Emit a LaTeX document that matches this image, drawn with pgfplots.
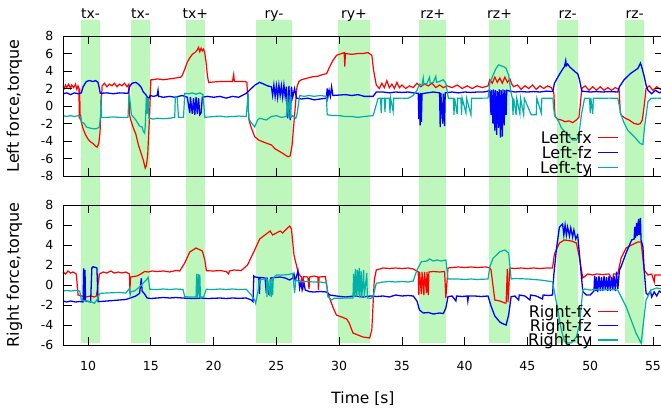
\documentclass[border=0pt]{standalone}
\usepackage{fontspec}
\setmainfont{DejaVu Sans}
\usepackage{pgfplots}
\pgfplotsset{compat=1.18}
\definecolor{bandg}{RGB}{190,247,187}
\definecolor{fxred}{RGB}{255,0,0}
\definecolor{fzblue}{RGB}{0,0,255}
\definecolor{tyteal}{RGB}{0,176,166}
\newcommand{\legline}[1]{\hspace{6pt}\tikz[baseline=0pt]\draw[#1] (0pt,5.85pt) -- (20pt,5.85pt);}
\pgfplotsset{
  panel/.style={
    scale only axis, width=600pt, height=140pt,
    xmin=8, xmax=55.8,
    xtick={10,15,...,55},
    tick align=inside, major tick length=8.5pt,
    tick style={black, line width=0.8pt},
    axis line style={black, line width=0.9pt},
    clip=false, axis on top,
    /pgf/number format/assume math mode=true,
    tick label style={font=\fontsize{12.5}{12.5}\selectfont},
    yticklabel style={inner sep=0pt, anchor=east, xshift=-9.5pt},
    xticklabel style={inner sep=0pt, anchor=north, yshift=-16.5pt},
    ylabel style={at={(rel axis cs:-0.0808,0.5)}, anchor=center, rotate=0, inner sep=0pt, font=\fontsize{16}{16}\selectfont},
    legend cell align=right, legend plot pos=none,
  },
  fx/.style={color=fxred, line width=1.2pt},
  fz/.style={color=fzblue, line width=1.3pt},
  ty/.style={color=tyteal, line width=1.2pt},
  band/.style={fill=bandg, draw=none, forget plot},
}
\begin{document}
\begin{tikzpicture}
\path[use as bounding box] (0,0) rectangle (661pt,408pt);
% ---------------- top panel ----------------
\begin{axis}[panel, at={(63pt,232pt)}, anchor=south west,
  ymin=-8, ymax=8, ytick={-8,-6,...,8}, xticklabels={},
  ylabel={Left force,torque},
  legend style={at={(rel axis cs:0.9267,0.3286)}, anchor=north east, draw=none, fill=none,
    inner sep=0pt, outer sep=0pt, row sep=0pt,
    font=\fontsize{16}{16}\selectfont, cells={anchor=east},
    nodes={inner sep=0pt, text height=13.35pt, text depth=1.65pt}},
]
\addplot[band] coordinates {(9.43,-11.31) (10.95,-11.31) (10.95,9.83) (9.43,9.83) (9.43,-11.31)};
\addplot[band] coordinates {(13.42,-11.31) (14.93,-11.31) (14.93,9.83) (13.42,9.83) (13.42,-11.31)};
\addplot[band] coordinates {(17.80,-11.31) (19.30,-11.31) (19.30,9.83) (17.80,9.83) (17.80,-11.31)};
\addplot[band] coordinates {(23.38,-11.31) (26.25,-11.31) (26.25,9.83) (23.38,9.83) (23.38,-11.31)};
\addplot[band] coordinates {(29.90,-11.31) (32.46,-11.31) (32.46,9.83) (29.90,9.83) (29.90,-11.31)};
\addplot[band] coordinates {(36.37,-11.31) (38.52,-11.31) (38.52,9.83) (36.37,9.83) (36.37,-11.31)};
\addplot[band] coordinates {(41.94,-11.31) (43.62,-11.31) (43.62,9.83) (41.94,9.83) (41.94,-11.31)};
\addplot[band] coordinates {(47.36,-11.31) (49.04,-11.31) (49.04,9.83) (47.36,9.83) (47.36,-11.31)};
\addplot[band] coordinates {(52.78,-11.31) (54.30,-11.31) (54.30,9.83) (52.78,9.83) (52.78,-11.31)};
\foreach \xx/\lab in {10.19/tx-,14.17/tx-,18.55/tx+,24.81/ry-,31.18/ry+,37.45/rz+,42.78/rz+,48.20/rz-,53.54/rz-}{
  \edef\temp{\noexpand\node[anchor=base, inner sep=0pt, font=\noexpand\fontsize{14}{14}\noexpand\selectfont] at (axis cs:\xx,10.02) {\lab};}
  \temp
}
% Left-fx
\addplot[fx] coordinates {
(8,2.3) (8.1,2.0) (8.2,2.4) (8.3,2.1) (8.45,2.5) (8.6,2.0) (8.7,2.4) (8.85,2.1) (9.0,2.5) (9.1,1.9) (9.2,2.3) (9.27,2.0)
(9.3,-1.4) (9.33,2.0) (9.37,-1.6) (9.4,-1.0) (9.45,-1.8) (9.6,-2.6) (9.8,-3.3) (10.0,-3.8) (10.2,-4.1) (10.4,-4.3) (10.6,-4.6) (10.72,-4.7) (10.85,-4.3) (10.95,-3.0) (11.05,0.5) (11.12,2.3)
(11.3,2.6) (11.5,2.2) (11.7,2.5) (11.9,2.3) (12.1,2.6) (12.3,2.2) (12.5,2.5) (12.7,2.3) (12.9,2.6) (13.1,2.2) (13.25,2.5)
(13.3,-1.0) (13.4,-1.6) (13.6,-2.5) (13.8,-3.2) (14.0,-4.4) (14.2,-5.3) (14.4,-6.2) (14.55,-7.1) (14.65,-6.8) (14.75,-5.5) (14.9,-1) (15.0,3.0)
(15.2,3.0) (15.5,3.1) (16,3.0) (16.5,3.1) (17,3.2) (17.4,3.3) (17.5,3.5) (17.7,4.2) (17.9,5.0) (18.1,5.5) (18.3,5.9) (18.5,6.1) (18.7,6.4) (18.8,6.7) (18.9,6.2) (19.0,6.6) (19.1,6.3) (19.2,6.5) (19.3,6.0) (19.4,5.0) (19.5,3.5) (19.6,2.7)
(20.5,2.8) (21.5,2.8) (21.6,3.6) (21.65,2.8) (22.5,2.8) (22.65,2.7) (22.75,0) (22.82,-1.6) (23.0,-2.5) (23.27,-3.5) (23.6,-3.9) (23.94,-4.1) (24.3,-4.3) (24.6,-4.45) (24.9,-4.9) (25.26,-5.2) (25.5,-5.4) (25.7,-5.6) (25.93,-5.8) (26.1,-5.7) (26.25,-4.5) (26.45,-1.0) (26.64,2.2)
(26.8,2.8) (27.0,3.0) (27.5,3.2) (27.9,3.35) (28.3,3.4) (28.7,3.6) (29.0,3.7) (29.25,4.5) (29.5,5.2) (29.8,5.8) (30.2,6.0) (30.4,6.1) (30.45,4.5) (30.5,6.0) (31,5.9) (31.5,6.0) (31.9,6.0) (32.3,6.1) (32.6,5.8) (32.75,4.0) (32.96,2.4)
(33.2,2.0) (33.4,2.6) (33.6,2.1) (33.8,2.9) (34.0,2.1) (34.2,2.5) (34.4,2.0) (34.6,2.7) (34.8,2.1) (35.0,2.4) (35.3,2.0) (35.6,2.3) (35.9,2.1) (36.2,2.6) (36.5,2.2) (36.8,2.5) (37.1,2.3) (37.4,2.6) (37.7,2.1) (38.0,2.4) (38.3,2.1) (38.6,2.3) (39,2.1) (39.4,2.4) (39.8,2.0) (40.2,2.3) (40.6,2.0) (41.0,2.3) (41.4,2.1) (41.86,2.3)
(42.0,3.0) (42.2,2.6) (42.4,3.3) (42.6,2.7) (42.8,3.2) (43.0,2.6) (43.2,3.3) (43.4,2.7) (43.6,3.1) (43.75,2.5) (43.9,2.2)
(44.2,2.4) (44.5,1.9) (44.8,2.3) (45.1,2.0) (45.4,2.4) (45.7,1.9) (46.0,2.3) (46.3,2.0) (46.6,2.3) (46.9,2.1) (47.1,1.5) (47.2,-1.2) (47.4,-1.5) (47.7,-1.6) (48,-1.8) (48.3,-1.7) (48.6,-1.9) (48.9,-1.6) (49.1,-1.3) (49.2,0) (49.33,2.0)
(49.6,2.3) (49.9,1.8) (50.2,2.2) (50.5,1.8) (50.8,2.2) (51.1,1.8) (51.4,2.1) (51.7,1.8) (52.0,2.1) (52.3,1.9) (52.4,-0.8) (52.5,-1.1) (52.8,-1.4) (53.1,-1.6) (53.5,-2.0) (53.8,-2.1) (54.0,-2.0) (54.15,-1.6) (54.3,0) (54.45,2.0) (54.7,2.3) (55.0,1.8) (55.3,2.2) (55.6,1.9) (55.8,2.1)
};
\addlegendentry{Left-fx\legline{fxred,line width=1.2pt}}
% Left-fz
\addplot[fz] coordinates {
(8,1.4) (8.3,1.5) (8.6,1.3) (8.9,1.5) (9.2,1.4) (9.46,1.5) (9.6,2.2) (9.86,2.8) (10.1,2.9) (10.4,2.8) (10.6,2.9) (10.79,2.7) (10.9,2.0) (10.97,1.45) (11.5,1.5) (12,1.4) (12.5,1.5) (13.18,1.45)
(13.3,2.2) (13.5,2.6) (13.8,2.7) (14.0,2.5) (14.2,2.2) (14.4,1.6) (14.6,1.3) (14.8,0.8) (14.95,1.2) (15.2,1.1) (15.5,1.2) (15.57,1.8) (15.62,1.1) (16,1.0) (16.5,1.1) (16.9,1.0) (17.5,1.2) (17.9,1.0)
(18.1,-0.8) (18.15,1.0) (18.3,-0.9) (18.4,0.9) (18.5,-1.0) (18.6,1.0) (18.7,-0.9) (18.8,0.9) (18.9,-1.0) (19.0,-0.8) (19.1,1.0) (19.5,1.1) (20,1.0) (20.5,1.1) (21,0.9) (21.5,1.1) (22,1.0) (22.6,1.45)
(23.0,2.0) (23.3,2.4) (23.67,2.7) (24,2.5) (24.3,2.3) (24.6,2.2) (24.7,1.2) (24.8,2.4) (24.9,1.1) (25.0,2.3) (25.1,1.0) (25.2,2.4) (25.3,1.2) (25.4,2.3) (25.5,1.0) (25.6,2.4) (25.7,1.1) (25.8,2.2) (25.9,-1.4) (26.0,2.3) (26.1,-1.6) (26.2,2.2) (26.3,1.0) (26.45,2.0) (26.6,0.9)
(27,0.8) (27.5,0.9) (28,0.7) (28.5,0.8) (28.98,0.9) (29.05,2.0) (29.1,1.0) (29.2,1.8) (29.3,1.1) (29.4,2.2) (29.5,1.2) (30,1.25) (30.5,1.3) (31,1.2) (31.5,1.3) (32,1.1) (32.7,1.1) (32.96,1.6)
(33.5,1.6) (34,1.5) (34.5,1.6) (35,1.55) (35.5,1.6) (35.9,1.5) (36.3,1.45) (36.35,-1.5) (36.4,1.4) (36.45,-2.2) (36.5,1.5) (36.55,-1.8) (36.6,1.4) (37.0,1.5) (37.5,1.6) (38.0,1.5) (38.05,-2.4) (38.1,1.5) (38.25,-2.0) (38.3,1.4) (38.4,-2.3) (38.45,1.5)
(39,1.6) (39.5,1.5) (40,1.6) (40.5,1.55) (41,1.6) (41.5,1.6) (41.86,1.7) (42.0,1.8) (42.1,-1.0) (42.15,1.8) (42.25,-2.0) (42.3,1.9) (42.4,-2.8) (42.45,1.8) (42.55,-3.3) (42.6,1.7) (42.7,-2.5) (42.75,1.9) (42.85,-3.6) (42.9,1.8) (43.0,-3.5) (43.05,1.9) (43.15,-2.2) (43.2,1.8) (43.3,-1.0) (43.35,1.8) (43.6,1.7)
(44,1.6) (44.5,1.65) (45,1.6) (45.5,1.65) (46,1.6) (46.5,1.7) (47.02,1.65) (47.15,2.6) (47.5,3.5) (47.8,4.2) (47.95,4.5) (48.05,5.2) (48.1,4.6) (48.2,4.8) (48.4,4.4) (48.5,4.3) (48.8,3.9) (49.0,3.7) (49.15,3.0) (49.33,1.7)
(50,1.6) (50.5,1.65) (51,1.6) (51.5,1.65) (52.2,1.6) (52.33,2.2) (52.7,3.0) (53.2,3.7) (53.5,4.0) (53.8,4.3) (54.0,4.9) (54.1,4.5) (54.3,3.4) (54.45,2.4) (54.6,1.8) (54.9,1.4) (55.2,1.8) (55.5,1.5) (55.8,1.7)
};
\addlegendentry{Left-fz\legline{fzblue,line width=1.3pt}}
% Left-ty
\addplot[ty] coordinates {
(8,-1.1) (8.3,-1.2) (8.6,-1.1) (8.9,-1.2) (9.2,-1.1) (9.4,-1.2) (9.46,-1.8) (9.7,-2.0) (9.86,-2.4) (10.1,-2.5) (10.4,-2.6) (10.66,-2.6) (10.9,-2.4) (11.0,-1.0) (11.02,1.2) (11.05,-1.3) (11.5,-1.3) (12,-1.25) (12.5,-1.3) (13.18,-1.3)
(13.25,1.25) (13.3,1.2) (13.45,-1.0) (13.8,-1.6) (14.1,-2.3) (14.3,-2.4) (14.4,-2.9) (14.5,-3.1) (14.55,-2.4) (14.64,1.07) (14.7,-0.9) (14.78,0.9) (14.85,-1.4) (15.2,-1.5) (15.5,-1.4) (16,-1.45) (16.5,-1.4) (16.9,-1.3) (16.95,1.07) (17.1,1.0) (17.2,-1.3) (17.6,-1.3)
(17.7,1.45) (18,1.4) (18.3,1.5) (18.6,1.35) (18.9,1.5) (19.15,1.3) (19.3,-1.3) (20,-1.2) (20.5,-1.15) (21,-1.25) (21.5,-1.2) (22,-1.15) (22.6,-1.2) (22.75,1.45) (22.8,-1.5) (23.0,-1.9) (23.27,-2.4) (23.5,-1.6) (23.67,-1.4) (24.2,-1.6) (24.6,-1.2) (25,-1.1) (25.4,-1.3) (25.8,-1.2) (25.9,1.2) (25.95,-1.2) (26.1,1.2) (26.15,-1.3) (26.3,-1.1) (26.55,-1.4) (26.65,-0.9)
(26.85,1.2) (27.2,1.1) (27.6,1.2) (28.0,1.1) (28.5,1.2) (28.98,1.1) (29.05,-1.0) (29.5,-1.1) (30,-1.1) (30.5,-1.2) (31,-1.2) (31.5,-1.3) (32,-1.2) (32.7,-1.1) (32.8,-0.65)
(33.1,0.88) (33.3,0.88) (33.35,-0.8) (33.4,0.88) (33.6,0.9) (33.65,-0.7) (33.7,0.88) (34.0,0.9) (34.05,-0.8) (34.1,0.9) (34.3,-0.6) (34.35,0.9) (34.55,0.88) (35,0.9) (35.5,0.88) (35.9,1.2)
(36.2,1.8) (36.4,2.5) (36.6,2.4) (36.7,3.2) (36.75,2.5) (37.0,2.6) (37.2,3.3) (37.25,2.6) (37.5,2.7) (37.7,3.4) (37.75,2.7) (38.0,2.8) (38.3,3.0) (38.5,2.6) (38.7,0.88)
(39.1,0.9) (39.15,-1.0) (39.2,0.9) (39.4,-0.9) (39.45,0.9) (39.7,0.88) (39.75,-1.0) (39.8,0.9) (40.1,-0.8) (40.15,0.9) (40.5,-1.0) (40.55,0.9) (41,0.88) (41.5,0.9) (41.86,0.9)
(42,2.6) (42.25,3.5) (42.5,4.3) (42.7,4.7) (42.9,4.6) (43.1,4.5) (43.3,4.3) (43.5,3.5) (43.7,1.5) (43.8,0.88) (43.85,-1.0) (43.9,0.88) (44.1,-1.0) (44.15,0.88) (44.4,-0.9) (44.45,0.88) (44.7,-1.0) (44.75,0.88) (45.3,-1.0) (45.7,-1.0) (45.75,0.88) (46.1,-0.8) (46.15,0.9) (46.5,0.88) (47.02,0.88)
(47.15,-1.0) (47.5,-1.8) (47.7,-2.5) (47.95,-2.9) (48.3,-3.4) (48.6,-3.9) (48.9,-3.9) (49.1,-3.3) (49.3,-1.0) (49.55,0.88) (49.95,0.9) (50.0,-0.8) (50.05,0.9) (50.2,-0.9) (50.25,0.9) (51,0.88) (51.5,0.9) (52.2,0.88)
(52.46,-1.0) (52.72,-2.0) (53.0,-2.8) (53.5,-3.5) (54.0,-4.3) (54.2,-4.4) (54.32,-2.5) (54.6,0.5) (54.86,0.88) (55.3,0.9) (55.8,0.88)
};
\addlegendentry{Left-ty\legline{tyteal,line width=1.2pt}}
\end{axis}
% ---------------- bottom panel ----------------
\begin{axis}[panel, at={(63pt,63pt)}, anchor=south west,
  ymin=-6, ymax=8, ytick={-6,-4,...,8},
  ylabel={Right force,torque},
  xlabel={Time [s]},
  xlabel style={at={(rel axis cs:0.5,0)}, anchor=base, inner sep=0pt, yshift=-58pt, font=\fontsize{15.5}{15.5}\selectfont},
  legend style={at={(rel axis cs:0.9267,0.2904)}, anchor=north east, draw=none, fill=none,
    inner sep=0pt, outer sep=0pt, row sep=0pt,
    font=\fontsize{16}{16}\selectfont, cells={anchor=east},
    nodes={inner sep=0pt, text height=12.99pt, text depth=1.31pt}},
]
\addplot[band] coordinates {(9.43,-5.8) (10.95,-5.8) (10.95,8) (9.43,8) (9.43,-5.8)};
\addplot[band] coordinates {(13.42,-5.8) (14.93,-5.8) (14.93,8) (13.42,8) (13.42,-5.8)};
\addplot[band] coordinates {(17.80,-5.8) (19.30,-5.8) (19.30,8) (17.80,8) (17.80,-5.8)};
\addplot[band] coordinates {(23.38,-5.8) (26.25,-5.8) (26.25,8) (23.38,8) (23.38,-5.8)};
\addplot[band] coordinates {(29.90,-5.8) (32.46,-5.8) (32.46,8) (29.90,8) (29.90,-5.8)};
\addplot[band] coordinates {(36.37,-5.8) (38.52,-5.8) (38.52,8) (36.37,8) (36.37,-5.8)};
\addplot[band] coordinates {(41.94,-5.8) (43.62,-5.8) (43.62,8) (41.94,8) (41.94,-5.8)};
\addplot[band] coordinates {(47.36,-5.8) (49.04,-5.8) (49.04,8) (47.36,8) (47.36,-5.8)};
\addplot[band] coordinates {(52.78,-5.8) (54.30,-5.8) (54.30,8) (52.78,8) (52.78,-5.8)};
% Right-fx
\addplot[fx] coordinates {
(8,1.3) (8.2,1.1) (8.4,1.4) (8.6,1.2) (8.8,1.3) (9.06,1.1) (9.2,-1.0) (9.5,-1.1) (9.8,-1.2) (10.2,-1.1) (10.5,-1.2) (10.66,-1.1) (10.9,1.1) (11.2,1.3) (11.5,1.2) (11.8,1.4) (12.1,1.2) (12.4,1.3) (12.7,1.2) (13.0,1.3) (13.3,1.1)
(13.32,-0.83) (13.38,0.8) (13.6,0.85) (13.9,0.9) (14.2,1.1) (14.5,1.35) (14.8,1.3) (15.1,1.4) (15.5,1.35) (16,1.4) (16.5,1.3) (17,1.45) (17.3,1.4) (17.7,2.2) (18.1,3.3) (18.6,3.7) (19.1,3.4) (19.3,2.5) (19.42,1.43)
(20,1.4) (20.5,1.45) (21,1.35) (21.2,1.1) (21.25,1.4) (21.6,1.5) (22.2,1.45) (22.7,2.0) (23.27,3.5) (23.67,4.6) (24.3,5.2) (24.5,5.4) (24.7,5.0) (25,5.2) (25.3,5.4) (25.5,5.2) (25.8,5.6) (26.06,5.9) (26.2,5.6) (26.4,3.0) (26.72,1.33)
(26.9,0.9) (27.0,0.8) (27.1,-0.5) (27.15,0.85) (27.5,0.8) (27.6,-0.4) (27.65,0.8) (28.0,0.9) (28.3,0.8) (28.35,-0.5) (28.4,0.8) (28.9,0.85) (29.1,-0.83) (29.5,-2.2) (29.78,-3.0) (30.2,-3.2) (30.6,-3.4) (30.8,-3.8) (31.1,-4.8) (31.5,-5.0) (31.9,-5.2) (32.43,-5.3) (32.6,-4.5) (32.8,0.5) (32.96,1.5)
(33.5,1.7) (34,1.65) (34.5,1.7) (35,1.65) (35.5,1.7) (35.9,1.6) (36.3,1.33) (36.35,-1.0) (36.4,1.3) (36.55,-0.9) (36.6,1.3) (36.75,-1.0) (36.8,1.3) (36.95,-0.8) (37.0,1.3) (37.1,-1.0) (37.15,1.3) (37.5,1.35) (38.0,1.3) (38.4,1.35) (38.5,-1.3) (38.67,1.7)
(39,1.75) (39.5,1.8) (40,1.75) (40.5,1.8) (41,1.75) (41.7,1.8) (42.0,1.7) (42.1,1.5) (42.4,-1.5) (42.8,-1.6) (43.2,-1.8) (43.3,-1.8) (43.4,1.6) (43.45,-1.7) (43.6,1.7)
(44.0,1.65) (44.5,1.7) (45,1.65) (45.5,1.7) (46,1.65) (46.5,1.7) (47.0,1.7) (47.15,3.1) (47.55,4.2) (47.95,4.5) (48.5,4.4) (48.9,4.2) (49.1,3.0) (49.3,1.5) (49.41,0.7)
(49.8,1.1) (50.2,1.0) (50.5,1.1) (51,1.05) (51.5,1.1) (51.8,0.4) (51.85,1.1) (52.2,1.1) (52.46,2.7) (52.86,3.7) (53.3,4.0) (53.8,4.3) (54.05,4.3) (54.3,1.5) (54.6,1.0) (54.9,1.1) (55.1,0.3) (55.15,1.0) (55.5,1.0) (55.8,1.0)
};
\addlegendentry{Right-fx\legline{fxred,line width=1.2pt}}
% Right-fz
\addplot[fz] coordinates {
(8,-1.6) (8.3,-1.7) (8.6,-1.6) (9.0,-1.7) (9.33,-1.65) (9.6,-1.7) (9.65,1.67) (9.7,-1.5) (9.75,1.5) (9.8,-1.6) (10.2,-1.7) (10.3,1.7) (10.4,1.83) (10.7,1.7) (10.8,-1.67) (11.5,-1.6) (12,-1.55) (12.5,-1.5) (13,-1.45) (13.3,-1.33) (13.8,-1.1) (14.1,-0.83) (14.24,0.67) (14.3,-0.6) (14.5,-0.9) (14.7,-1.3)
(15,-1.35) (15.5,-1.3) (16,-1.25) (16.5,-1.3) (17,-1.25) (17.5,-1.3) (18,-1.33) (18.5,-1.35) (19,-1.3) (19.5,-1.35) (20,-1.33) (20.5,-1.3) (21,-1.35) (21.5,-1.3) (22,-1.33) (22.6,-1.3) (23.0,-1.5) (23.14,-1.67)
(23.2,0.9) (23.3,0.8) (23.6,0.75) (23.65,-0.9) (23.7,0.75) (24.1,0.7) (24.2,-0.8) (24.25,0.75) (24.4,-0.9) (24.5,-0.8) (24.55,0.7) (24.9,0.75) (25.3,0.8) (25.7,0.7) (26.06,0.5) (26.3,0.7) (26.4,1.1) (26.5,0.4) (26.72,1.4) (26.85,-0.3) (26.95,0.3) (27.05,-0.5) (27.2,0.2) (27.3,-0.5) (27.65,-0.67)
(28,-0.7) (28.5,-0.65) (29,-0.7) (29.25,-1.0) (29.8,-1.1) (30.5,-1.2) (31.2,-1.1) (31.9,-1.2) (32.5,-1.1) (33,-1.15) (33.5,-1.1) (34,-1.2) (34.5,-1.0) (35,-1.1) (35.5,-1.05) (35.9,-1.1)
(36.2,-1.6) (36.4,-2.5) (36.7,-2.8) (37.1,-2.75) (37.5,-2.9) (38.0,-2.8) (38.3,-2.85) (38.5,-2.3) (38.67,-1.17) (39,-1.1) (39.3,-1.6) (39.35,-1.1) (39.8,-1.15) (40.2,-1.1) (40.25,-1.6) (40.3,-1.1) (40.8,-1.1) (41.3,-1.15) (41.86,-1.1)
(42.1,-2.1) (42.4,-3.1) (42.8,-3.7) (43.0,-3.85) (43.3,-4.0) (43.5,-3.0) (43.7,-1.17) (44,-1.1) (44.3,-1.5) (44.35,-1.0) (44.8,-1.1) (45.2,-1.5) (45.25,-1.0) (45.7,-1.1) (46.2,-1.4) (46.25,-1.0) (46.7,-1.05) (47.0,-1.0)
(47.1,1.0) (47.3,3.5) (47.55,5.8) (47.8,6.1) (47.9,5.0) (48.0,6.0) (48.1,5.0) (48.2,5.8) (48.35,4.9) (48.45,5.7) (48.6,4.8) (48.7,5.5) (48.85,4.6) (49.0,5.0) (49.15,3.0) (49.41,-0.67) (49.7,-1.0) (50.0,-1.0)
(50.3,-0.6) (50.35,0.9) (50.45,-0.6) (50.5,0.8) (50.6,-0.7) (50.7,0.9) (50.8,-0.6) (50.9,0.8) (51.0,-0.6) (51.1,0.9) (51.2,-0.5) (51.3,0.8) (51.4,-0.6) (51.5,0.9) (51.6,-0.6) (51.7,0.8) (51.8,-0.5) (51.9,0.9) (52.0,-0.6) (52.1,1.33) (52.2,-0.4) (52.33,1.5)
(52.46,1.83) (52.86,3.2) (53.3,4.5) (53.5,4.6) (53.55,5.8) (53.6,4.7) (53.7,6.2) (53.75,4.9) (53.85,6.6) (53.9,5.0) (54.0,6.7) (54.05,4.5) (54.2,3.8) (54.3,1.5) (54.45,-0.8) (54.6,-1.0) (54.8,-0.6) (54.9,-1.2) (55.1,-0.7) (55.3,-1.1) (55.5,-0.6) (55.8,-0.9)
};
\addlegendentry{Right-fz\legline{fzblue,line width=1.3pt}}
% Right-ty
\addplot[ty] coordinates {
(8,-0.6) (8.3,-0.55) (8.6,-0.6) (9,-0.55) (9.33,-0.6) (9.46,-1.5) (9.8,-1.6) (10.2,-1.65) (10.5,-1.83) (10.7,-1.5) (10.9,-0.9) (11.05,-0.83) (11.5,-0.8) (12,-0.77) (12.5,-0.75) (13,-0.8) (13.2,-0.5) (13.3,-0.33) (13.35,-1.0) (13.4,-0.67) (13.7,-0.6) (14.1,-0.2) (14.4,0.2) (14.64,0.5) (14.78,0.77) (14.92,-0.43)
(15.5,-0.45) (16,-0.4) (16.5,-0.45) (17,-0.4) (17.56,-0.45) (17.7,-1.17) (18.2,-1.2) (18.6,-1.2) (18.65,1.1) (18.7,-1.2) (18.8,1.1) (18.85,-1.2) (18.9,1.0) (18.95,-1.2) (19.2,-1.2) (19.42,-0.43)
(20,-0.45) (20.5,-0.4) (21,-0.45) (21.5,-0.4) (22,-0.45) (22.6,-0.43) (23,-1.0) (23.27,-1.5) (23.35,-1.83) (23.55,-0.5) (23.67,0.5) (24.0,0.6) (24.2,0.6) (24.25,-1.2) (24.3,0.6) (24.45,-1.1) (24.5,0.6) (24.6,-1.2) (24.65,0.6) (24.7,-1.0) (24.75,0.7) (25,1.0) (25.5,1.0) (26.0,1.05) (26.3,1.17) (26.45,-0.8) (26.55,0.5) (26.86,0.33)
(27.5,0.35) (28,0.3) (28.5,0.3) (29,0.2) (29.1,-1.17) (29.4,-1.5) (29.6,-1.33) (30,-1.33) (30.6,-1.3) (31.1,-1.3) (31.15,1.1) (31.2,-1.2) (31.3,1.6) (31.35,-1.2) (31.45,1.5) (31.5,-1.0) (31.6,1.7) (31.65,-1.2) (31.75,1.4) (31.8,-1.3) (31.95,1.5) (32.0,-1.2) (32.2,1.2) (32.25,-1.3) (32.56,-1.33) (32.7,-1.2) (32.96,0.17)
(33.5,0.3) (34,0.35) (34.5,0.3) (35,0.35) (35.5,0.3) (35.9,0.4) (36.2,1.5) (36.55,2.33) (37,2.4) (37.2,2.6) (37.5,2.4) (37.8,2.5) (38.1,2.4) (38.5,2.5) (38.67,0.6) (39.5,0.6) (40,0.55) (40.5,0.6) (41,0.55) (41.86,0.6)
(42.0,1.8) (42.26,2.67) (42.8,3.33) (43.2,3.5) (43.5,3.2) (43.7,0.6) (44,0.65) (45,0.6) (46,0.5) (47.0,0.33) (47.15,-0.67) (47.42,-2.5) (47.7,-4.5) (47.95,-5.6) (48.3,-5.8) (48.48,-5.8) (48.9,-5.2) (49.15,-3.9) (49.41,-0.5)
(49.55,-0.4) (50,-0.5) (50.5,-0.45) (51,-0.5) (51.5,-0.45) (52.2,-0.5) (52.46,-1.17) (52.86,-2.17) (53.26,-3.5) (53.66,-4.83) (53.93,-5.5) (54.06,-5.83) (54.2,-4.2) (54.45,-1.5) (54.86,-0.5) (55.3,-0.3) (55.8,-0.4)
};
\addlegendentry{Right-ty\legline{tyteal,line width=1.2pt}}
\end{axis}
\end{tikzpicture}
\end{document}
